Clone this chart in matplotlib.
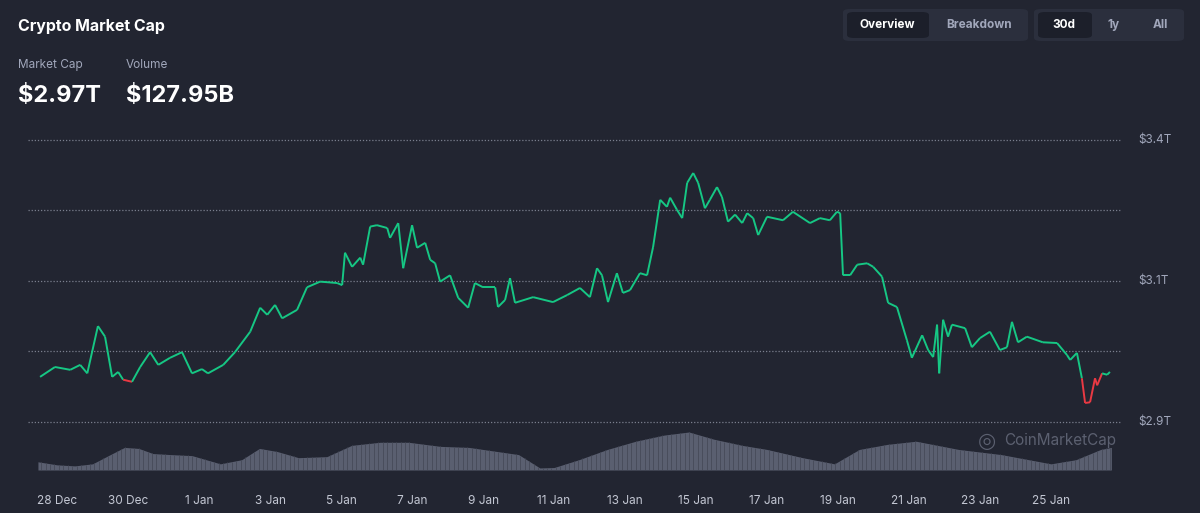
import matplotlib
matplotlib.use("Agg")
import matplotlib.pyplot as plt
import numpy as np
from matplotlib.collections import LineCollection
from matplotlib.patches import FancyBboxPatch

# days after 28 Dec, market cap in trillions
days = [-0.48, -0.06, 0.37, 0.65, 0.85, 1.15, 1.35, 1.55, 1.72, 1.86, 2.11, 2.34, 2.62, 2.85,
        3.18, 3.52, 3.80, 4.08, 4.25, 4.68, 5.01, 5.44, 5.72, 5.92, 6.14, 6.34, 6.76, 7.04,
        7.41, 7.89, 8.03, 8.11, 8.31, 8.54, 8.62, 8.82, 9.01, 9.30, 9.38, 9.61, 9.75, 10.00,
        10.14, 10.37, 10.51, 10.65, 10.79, 11.07, 11.30, 11.58, 11.77, 12.00, 12.34, 12.42,
        12.62, 12.76, 12.90, 13.41, 13.97, 14.37, 14.73, 15.01, 15.21, 15.35, 15.52, 15.77,
        15.94, 16.14, 16.42, 16.62, 16.79, 16.99, 17.18, 17.27, 17.46, 17.61, 17.75, 17.92,
        18.06, 18.25, 18.39, 18.59, 18.73, 18.90, 19.10, 19.30, 19.44, 19.61, 19.75, 20.00,
        20.45, 20.73, 21.21, 21.49, 21.77, 21.97, 22.06, 22.14, 22.34, 22.54, 22.82, 22.99,
        23.24, 23.41, 23.66, 23.94, 24.08, 24.37, 24.54, 24.68, 24.79, 24.85, 24.96, 25.10,
        25.21, 25.58, 25.77, 26.00, 26.28, 26.56, 26.76, 26.90, 27.07, 27.32, 27.77, 28.17,
        28.45, 28.54, 28.73, 28.87, 28.96, 29.10, 29.24, 29.30, 29.44, 29.58, 29.66]
market_cap = [2.964, 2.978, 2.974, 2.981, 2.969, 3.036, 3.021, 2.964, 2.971, 2.960, 2.957, 2.978,
              2.999, 2.981, 2.991, 2.999, 2.969, 2.975, 2.969, 2.981, 2.999, 3.028, 3.062, 3.052,
              3.066, 3.047, 3.059, 3.091, 3.099, 3.097, 3.094, 3.140, 3.120, 3.133, 3.123, 3.177,
              3.179, 3.175, 3.161, 3.182, 3.118, 3.179, 3.147, 3.154, 3.130, 3.125, 3.099, 3.108,
              3.076, 3.062, 3.097, 3.091, 3.091, 3.063, 3.073, 3.104, 3.069, 3.077, 3.070, 3.080,
              3.090, 3.077, 3.118, 3.108, 3.070, 3.111, 3.083, 3.087, 3.111, 3.108, 3.148, 3.215,
              3.205, 3.218, 3.201, 3.189, 3.239, 3.253, 3.239, 3.203, 3.215, 3.233, 3.219, 3.184,
              3.194, 3.182, 3.196, 3.189, 3.165, 3.191, 3.186, 3.198, 3.182, 3.189, 3.186, 3.198,
              3.196, 3.108, 3.108, 3.123, 3.125, 3.120, 3.106, 3.069, 3.063, 3.016, 2.991, 3.023,
              3.002, 2.992, 3.038, 2.969, 3.045, 3.021, 3.038, 3.033, 3.006, 3.019, 3.028, 3.002,
              3.006, 3.042, 3.013, 3.021, 3.013, 3.012, 2.995, 2.988, 2.998, 2.962, 2.927, 2.928,
              2.962, 2.952, 2.969, 2.967, 2.971]

vol_days = [-0.54, 0.0, 0.5, 1.0, 1.5, 1.9, 2.3, 2.7, 3.2, 3.8, 4.6, 5.2, 5.7, 6.2, 6.8, 7.6,
            8.3, 9.1, 9.9, 10.8, 11.6, 12.2, 13.0, 13.6, 14.0, 14.7, 15.5, 16.3, 17.1, 17.8,
            18.5, 19.3, 20.0, 21.0, 21.9, 22.6, 23.4, 24.2, 25.4, 26.6, 28.0, 28.7, 29.4, 29.7]
volume = [40, 25, 20, 30, 75, 110, 105, 80, 75, 70, 30, 50, 105, 90, 60, 65, 120, 135, 135,
          115, 110, 95, 75, 10, 12, 50, 100, 140, 170, 185, 150, 120, 100, 60, 30, 100, 125,
          140, 100, 75, 30, 50, 100, 110]

tick_days = list(range(0, 30, 2))
tick_labels = ["28 Dec", "30 Dec", "1 Jan", "3 Jan", "5 Jan", "7 Jan", "9 Jan", "11 Jan",
               "13 Jan", "15 Jan", "17 Jan", "19 Jan", "21 Jan", "23 Jan", "25 Jan"]
grid_vals = [2.9, 3.0, 3.1, 3.2, 3.3]
grid_labels = ["$2.9T", "", "$3.1T", "", "$3.4T"]

BG = "#222531"
GREEN = "#16c784"
RED = "#ea3943"
TXT = "#a1a7bb"

plt.rcParams['font.family'] = ['Inter', 'DejaVu Sans']
fig = plt.figure(figsize=(12, 5.13), dpi=100, facecolor=BG)
W, H = 1200, 513

def axrect(x0, y0, x1, y1):
    return [x0 / W, 1 - y1 / H, (x1 - x0) / W, (y1 - y0) / H]

# volume underneath, with thin stripes like the bars
axv = fig.add_axes(axrect(28, 125, 1122, 470))
axv.set_facecolor(BG)
axv.fill_between(vol_days, volume, 0, color="#5a5f70", lw=0)
sx = np.arange(-0.45, 29.7, 0.125)
axv.vlines(sx, 0, np.interp(sx, vol_days, volume), color="#464a59", lw=0.6)
axv.set_ylim(0, max(volume) * 345 / 38)
axv.set_xlim(-0.82, 30.0)
axv.axis("off")

ax = fig.add_axes(axrect(28, 125, 1122, 470), sharex=axv)
ax.patch.set_alpha(0)
for g in grid_vals:
    ax.axhline(g, color="#7a7f8e", lw=0.9, ls=(0, (1, 1.5)), zorder=1)
x = np.array(days)
y = np.array(market_cap)
base = market_cap[0]
segs = np.stack([np.column_stack([x[:-1], y[:-1]]), np.column_stack([x[1:], y[1:]])], axis=1)
mid = (y[:-1] + y[1:]) / 2
cols = [RED if m < base else GREEN for m in mid]
ax.add_collection(LineCollection(segs, colors=cols, linewidths=1.4, zorder=3))
ax.set_ylim(2.832, 3.321)
ax.set_xlim(-0.82, 30.0)
for s in ax.spines.values():
    s.set_visible(False)
ax.set_yticks([])
ax.set_xticks(tick_days)
ax.set_xticklabels(tick_labels, color="#c3c7d3", fontsize=8.5)
ax.tick_params(axis="x", length=0, pad=18)
for g, lab in zip(grid_vals, grid_labels):
    if lab:
        ax.text(1.0145, g, lab, transform=ax.get_yaxis_transform(), color=TXT,
                fontsize=8.5, va="center", ha="left")
ax.text(0.995, 0.085, "CoinMarketCap", transform=ax.transAxes, color="#6a6f80",
        fontsize=11, ha="right", va="center", zorder=4, alpha=0.8)
ax.text(0.885, 0.085, "\u25CE", transform=ax.transAxes, color="#6a6f80",
        fontsize=15, ha="right", va="center", zorder=4, alpha=0.8)

# header
fig.text(18 / W, 1 - 26 / H, "Crypto Market Cap", color="white", fontsize=11.5,
         fontweight="bold", va="center")
fig.text(18 / W, 1 - 65 / H, "Market Cap", color=TXT, fontsize=8.5, va="center")
fig.text(126 / W, 1 - 65 / H, "Volume", color=TXT, fontsize=8.5, va="center")
fig.text(18 / W, 1 - 96 / H, "$2.97T", color="white", fontsize=17, fontweight="bold",
         va="center")
fig.text(126 / W, 1 - 96 / H, "$127.95B", color="white", fontsize=17, fontweight="bold",
         va="center")

def button(x0, y0, x1, y1, fc):
    fig.patches.append(FancyBboxPatch((x0 / W, 1 - y1 / H), (x1 - x0) / W, (y1 - y0) / H,
                                      boxstyle="round,pad=0,rounding_size=0.006",
                                      transform=fig.transFigure, fc=fc, ec="none"))

button(843, 9, 1028, 41, "#2b2f3d")
button(847, 12, 929, 38, "#1c1f2a")
button(1034, 9, 1184, 41, "#2b2f3d")
button(1038, 12, 1092, 38, "#1c1f2a")
for tx, lab, c in [(887, "Overview", "white"), (979, "Breakdown", TXT),
                   (1064, "30d", "white"), (1114, "1y", TXT), (1160, "All", TXT)]:
    fig.text(tx / W, 1 - 25 / H, lab, color=c, fontsize=8.5, fontweight="bold",
             ha="center", va="center")

fig.savefig("out.png", dpi=100, facecolor=BG)
